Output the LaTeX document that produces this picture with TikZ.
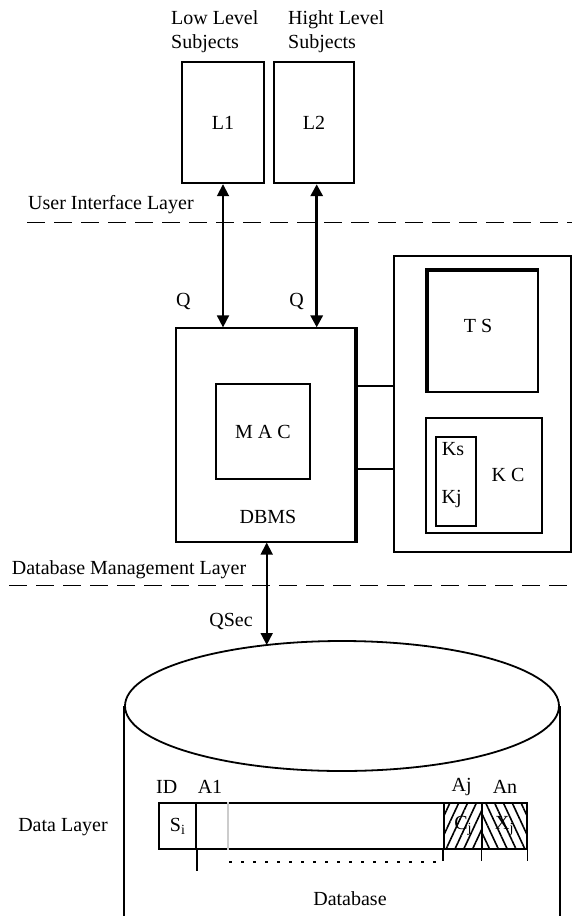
\documentclass[tikz,border=0pt]{standalone}
\usepackage{fontspec}
\setmainfont{Liberation Serif}
\usetikzlibrary{arrows.meta,shapes.geometric,patterns.meta}

\begin{document}
\begin{tikzpicture}[x=1pt,y=-1pt,
  every node/.style={font=\fontsize{20}{23.5}\selectfont,inner sep=0pt},
  bx/.style={draw=black,line width=1.8pt,inner sep=0pt},
  ln/.style={line width=1.8pt},
  ar/.style={{Triangle[length=12pt,width=12pt]}-{Triangle[length=12pt,width=12pt]},line width=1.8pt},
  lyr/.style={line width=1.5pt,dash pattern=on 18pt off 9pt}]
\useasboundingbox (0,0) rectangle (572,916);
% subjects
\node[anchor=west,align=left] (lowlbl) at (171,31.7) {Low Level\\Subjects};
\node[anchor=west,align=left] (highlbl) at (288,31.7) {Hight Level\\Subjects};
\node[bx,minimum width=82.6,minimum height=121.6] (L1) at (223,122.5) {L1};
\node[bx,minimum width=80,minimum height=121.6] (L2) at (314,122.5) {L2};
\node[anchor=west] (uil) at (28,205) {User Interface Layer};
\draw[lyr] (27,222.3) -- (572,222.3);
% dbms
\node[bx,minimum width=179,minimum height=213.4] (DBMS) at (265.5,435) {};
\draw[line width=3.5pt] (DBMS.north east) -- (DBMS.south east);
\node[bx,minimum width=94.3,minimum height=95.3] (MAC) at (262.9,431.7) {M A C};
\node (dbmslbl) at (268,516.7) {DBMS};
\node (q1) at (183.3,301.7) {Q};
\node (q2) at (296.7,301.7) {Q};
\draw[ar] (L1.south) -- (L1.south |- DBMS.north);
\draw[ar,line width=3.5pt] ([xshift=2.7]L2.south) -- ([xshift=2.7]L2.south |- DBMS.north);
% right side
\node[bx,minimum width=177,minimum height=295.7] (outer) at (482.5,403.9) {};
\node[bx,minimum width=110,minimum height=120.7] (TS) at (483.3,331.3) {};
\draw[line width=4pt] (TS.south west) -- (TS.north west) -- (TS.north east);
\node (tslbl) at (478,326) {T S};
\node[bx,minimum width=115.7,minimum height=115] (KC) at (483.8,475.8) {};
\node (kclbl) at (508,475) {K C};
\node[bx,minimum width=40,minimum height=88.7] (keys) at (456,481.7) {};
\node (ks) at (453,449) {Ks};
\node (kj) at (451.7,499) {Kj};
\draw[ln] (DBMS.east |- 0,385.7) -- (outer.west |- 0,385.7);
\draw[ln] (DBMS.east |- 0,469.3) -- (outer.west |- 0,469.3);
% database management layer
\node[anchor=west] (dml) at (11.7,570) {Database Management Layer};
\draw[lyr] (9,585.5) -- (572,585.5);
\node (qsec) at (231,621.7) {QSec};
\node[bx,ellipse,minimum width=434,minimum height=130] (db) at (342,706) {};
\coordinate (dbtop) at (266.7,645);
\draw[ar] (dbtop |- DBMS.south) -- (dbtop);
\draw[ln] (db.west) -- (db.west |- 0,916);
\draw[ln] (db.east) -- (db.east |- 0,916);
% data layer
\node (dl) at (63,826.7) {Data Layer};
\node[bx,minimum width=36.7,minimum height=46] (idc) at (177.65,826.3) {S\textsubscript{i}};
\node[bx,minimum width=248,minimum height=46] (body) at (320,826.3) {};
\node[bx,minimum width=38.3,minimum height=46,pattern={Lines[angle=65,distance=8pt,line width=1.6pt]}] (cjc) at (463.15,826.3) {C\textsubscript{j}};
\node[bx,minimum width=44.4,minimum height=46,pattern={Lines[angle=115,distance=8pt,line width=1.6pt]}] (xjc) at (504.5,826.3) {X\textsubscript{j}};
\draw[gray!40,line width=2pt] ([xshift=33]body.north west) -- ([xshift=33]body.south west);
\draw[ln] (idc.south east) -- ++(0,21);
\draw[ln] (cjc.south west) -- ++(0,11);
\draw[ln] (xjc.south west) -- ++(0,11);
\draw[ln] (xjc.south east) -- ++(0,11);
\draw[line width=2pt,dash pattern=on 2.5pt off 9.5pt] (229,861.7) -- (437,861.7);
\node (idl) at (166.7,786.7) {ID};
\node (a1l) at (210,786.7) {A1};
\node (ajl) at (461.7,786.7) {Aj};
\node (anl) at (505,786.7) {An};
\node (dbl) at (350,898.3) {Database};
\end{tikzpicture}
\end{document}
